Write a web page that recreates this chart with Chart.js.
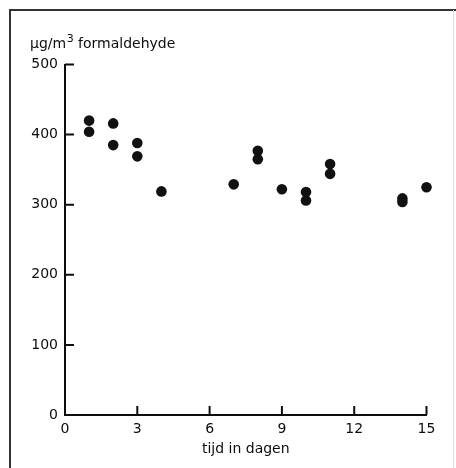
<!DOCTYPE html>
<html>
<head>
<meta charset="utf-8">
<script src="https://cdn.jsdelivr.net/npm/chart.js@4/dist/chart.umd.min.js"></script>
<style>
  html, body { margin: 0; padding: 0; background: #fff; }
  #wrap { width: 456px; height: 468px; }
</style>
</head>
<body>
<div id="wrap"><canvas id="chart" width="456" height="468"></canvas></div>
<script>
// dagen en gemeten concentratie (µg/m3 formaldehyde)
var dagen = [1, 1, 2, 2, 3, 3, 4, 7, 8, 8, 9, 10, 10, 11, 11, 14, 14, 15];
var conc  = [420, 404, 416, 385, 388, 369, 319, 329, 377, 365, 322, 318, 306, 358, 344, 309, 304, 325];
var xTicks = [0, 3, 6, 9, 12, 15];
var yTicks = [0, 100, 200, 300, 400, 500];

var ink = '#0d0d0d';
var fontFam = "'DejaVu Sans', sans-serif";

var punten = dagen.map(function (d, i) { return { x: d, y: conc[i] }; });

// kader, binnenwaartse streepjes en de y-as titel
var extras = {
  id: 'extras',
  beforeDraw: function (chart) {
    var ctx = chart.ctx;
    ctx.save();
    ctx.fillStyle = '#fff';
    ctx.fillRect(0, 0, chart.width, chart.height);
    ctx.strokeStyle = '#333';
    ctx.lineWidth = 2;
    ctx.beginPath();
    ctx.moveTo(10, 468);
    ctx.lineTo(10, 10);
    ctx.lineTo(456, 10);
    ctx.stroke();
    ctx.strokeStyle = '#ddd';
    ctx.lineWidth = 1;
    ctx.beginPath();
    ctx.moveTo(453.5, 10);
    ctx.lineTo(453.5, 468);
    ctx.stroke();
    ctx.restore();
  },
  afterDraw: function (chart) {
    var ctx = chart.ctx;
    var xs = chart.scales.x, ys = chart.scales.y;
    var left = chart.chartArea.left, bottom = chart.chartArea.bottom;
    ctx.save();
    ctx.strokeStyle = ink;
    ctx.lineWidth = 2;
    ctx.beginPath();
    yTicks.forEach(function (v) {
      if (v === 0) return;
      var py = ys.getPixelForValue(v);
      ctx.moveTo(left, py);
      ctx.lineTo(left + 9, py);
    });
    xTicks.forEach(function (v) {
      if (v === 0) return;
      var px = xs.getPixelForValue(v);
      ctx.moveTo(px, bottom);
      ctx.lineTo(px, bottom - 9);
    });
    ctx.stroke();

    ctx.fillStyle = ink;
    ctx.textBaseline = 'alphabetic';
    ctx.font = '14px ' + fontFam;
    var x0 = 30;
    ctx.fillText('µg/m', x0, 48);
    x0 += ctx.measureText('µg/m').width;
    ctx.font = '11px ' + fontFam;
    ctx.fillText('3', x0 + 0.5, 42);
    x0 += ctx.measureText('3').width + 0.5;
    ctx.font = '14px ' + fontFam;
    ctx.fillText(' formaldehyde', x0, 48);
    ctx.restore();
  }
};

new Chart(document.getElementById('chart').getContext('2d'), {
  type: 'scatter',
  data: {
    datasets: [{
      data: punten,
      backgroundColor: '#111',
      borderWidth: 0,
      pointRadius: 5.3,
      clip: false
    }]
  },
  options: {
    responsive: false,
    animation: false,
    layout: { padding: { top: 64.5, right: 29.5, left: 0, bottom: 0 } },
    plugins: {
      legend: { display: false },
      tooltip: { enabled: false }
    },
    scales: {
      x: {
        type: 'linear',
        min: 0,
        max: 15,
        afterBuildTicks: function (scale) {
          scale.ticks = xTicks.map(function (v) { return { value: v }; });
        },
        afterFit: function (scale) { scale.height = 53; },
        ticks: {
          color: ink,
          padding: 6,
          font: { family: fontFam, size: 14 }
        },
        grid: { drawOnChartArea: false, drawTicks: false },
        border: { color: ink, width: 2 },
        title: {
          display: true,
          text: 'tijd in dagen',
          color: ink,
          font: { family: fontFam, size: 14 },
          padding: { top: 0, bottom: 10 }
        }
      },
      y: {
        min: 0,
        max: 500,
        afterBuildTicks: function (scale) {
          scale.ticks = yTicks.map(function (v) { return { value: v }; });
        },
        afterFit: function (scale) { scale.width = 65; },
        ticks: {
          color: ink,
          padding: 7,
          font: { family: fontFam, size: 14 }
        },
        grid: { drawOnChartArea: false, drawTicks: false },
        border: { color: ink, width: 2 }
      }
    }
  },
  plugins: [extras]
});
</script>
</body>
</html>
